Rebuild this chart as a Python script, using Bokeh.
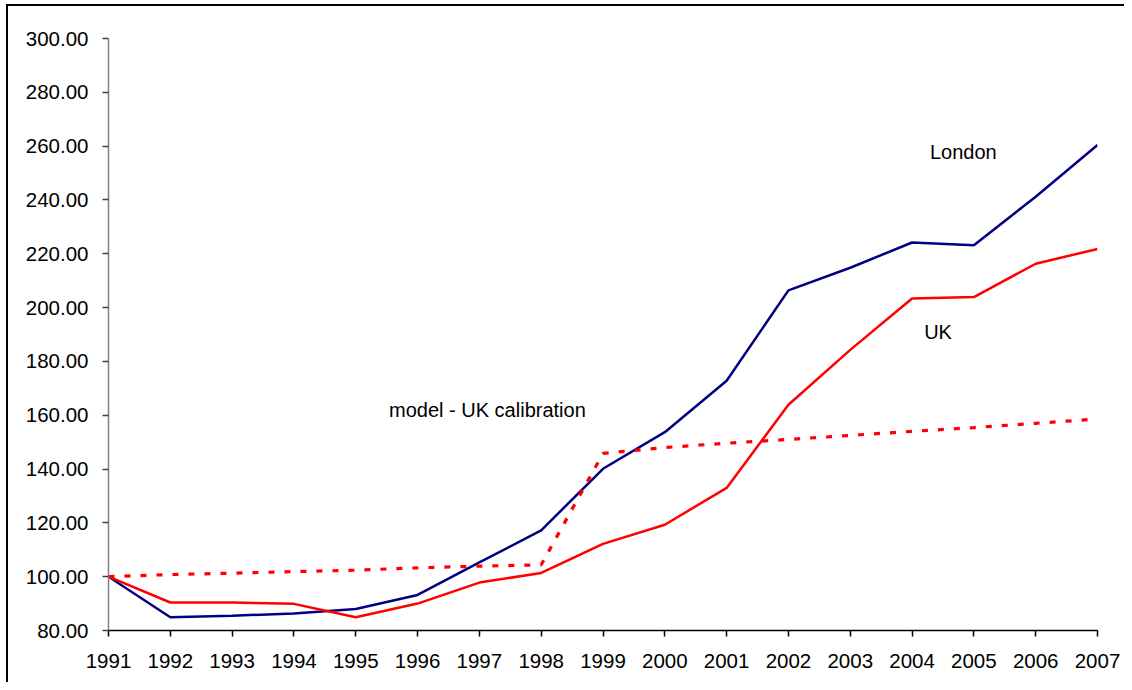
from bokeh.plotting import figure
from bokeh.models import Label, FixedTicker, NumeralTickFormatter, Range1d
from bokeh.embed import file_html
from bokeh.resources import INLINE

years = list(range(1991, 2008))
london = [100, 84.9, 85.5, 86.3, 88.0, 93.2, 105.3, 117.2, 140.1, 153.7, 172.8, 206.4, 214.8, 224.2, 223.2, 241.2, 260.4]
uk = [100, 90.4, 90.4, 89.9, 84.9, 90.0, 97.8, 101.4, 112.2, 119.3, 133.0, 163.9, 184.3, 203.4, 203.9, 216.3, 221.8]
model = [100, 100.8, 101.3, 101.9, 102.4, 103.3, 103.9, 104.4, 145.8, 148.0, 149.6, 151.0, 152.5, 154.0, 155.4, 157.0, 158.6]
y_ticks = [80, 100, 120, 140, 160, 180, 200, 220, 240, 260, 280, 300]

FONT = "Liberation Sans"

p = figure(width=1124, height=682, output_backend="svg", toolbar_location=None,
           x_range=Range1d(1991, 2007), y_range=Range1d(80, 300),
           min_border_left=108, min_border_right=27, min_border_top=38, min_border_bottom=52)
p.background_fill_color = None
p.border_fill_color = None
p.styles = {"background": "linear-gradient(black, black) 6px 4px / 2px 100% no-repeat, "
                          "linear-gradient(black, black) 6px 4px / 100% 2px no-repeat, white"}
p.outline_line_color = None
p.grid.visible = False

p.line(years, london, line_color="#000080", line_width=2.5)
p.line(years, uk, line_color="#FF0000", line_width=2.5)
p.line(years, model, line_color="#FF0000", line_width=3.2, line_dash="6 10")

p.xaxis.ticker = FixedTicker(ticks=years)
p.yaxis.ticker = FixedTicker(ticks=y_ticks)
p.yaxis.formatter = NumeralTickFormatter(format="0.00")
for ax in (p.xaxis, p.yaxis):
    ax.major_label_text_font = FONT
    ax.major_label_text_font_size = "20.5px"
    ax.major_label_text_color = "black"
    ax.major_tick_in = 0
    ax.major_tick_out = 6
    ax.minor_tick_line_color = None
    ax.axis_line_width = 1.5
    ax.major_tick_line_width = 1.5
p.yaxis.major_label_standoff = 14
p.xaxis.major_label_standoff = 17
p.xaxis.axis_line_color = "black"
p.xaxis.major_tick_line_color = "black"
p.yaxis.axis_line_color = "#808080"
p.yaxis.major_tick_line_color = "#404040"

for txt, xx, yy in [("London", 2004.83, 258.0), ("UK", 2004.42, 191.1), ("model - UK calibration", 1997.13, 162.1)]:
    p.add_layout(Label(x=xx, y=yy, text=txt, text_font=FONT, text_font_size="20px",
                       text_align="center", text_baseline="middle", text_color="black"))

open("out.html", "w").write(file_html(p, INLINE))
